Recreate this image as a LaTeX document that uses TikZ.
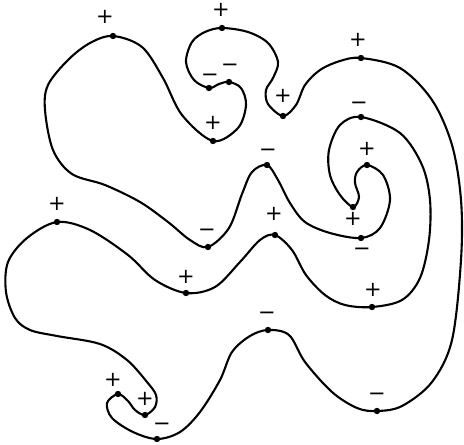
\documentclass[tikz,border=0pt]{standalone}
\usepackage{fontspec}
\newfontfamily\signfont{DejaVu Sans}
\begin{document}
\begin{tikzpicture}[x=1pt,y=-1pt,
  curve/.style={line width=2.1pt, line join=round},
  dotmark/.style={fill=black},
  sgn/.style={inner sep=0pt, text height=0.72em, text depth=0pt, font=\signfont\fontsize{21}{21}\selectfont}]
\useasboundingbox (0,0) rectangle (464,445);
% marked points
\coordinate (P1) at (113,36);
\coordinate (P2) at (213,141);
\coordinate (P3) at (222,28);
\coordinate (P4) at (209,88);
\coordinate (P5) at (229,82);
\coordinate (P6) at (283,116);
\coordinate (P7) at (361,58);
\coordinate (P8) at (361,117);
\coordinate (P9) at (367,165);
\coordinate (P10) at (353,207);
\coordinate (P11) at (361,238);
\coordinate (P12) at (267,165);
\coordinate (P13) at (208,247);
\coordinate (P14) at (57,222);
\coordinate (P15) at (186,293);
\coordinate (P16) at (275,235);
\coordinate (P17) at (372,307);
\coordinate (P18) at (268,330);
\coordinate (P19) at (377,411);
\coordinate (P20) at (157,439);
\coordinate (P21) at (145,415);
\coordinate (P22) at (118,394);
% the closed curve
\draw[curve] plot[smooth cycle, tension=0.55] coordinates {
 (P1) (142,47) (163,78) (182,115) (P2) (238,128) (246,105) (241,88)
 (P5) (219,84) (P4) (194,80) (186,62) (192,42) (205,32) (P3)
 (248,32) (268,43) (278,62) (273,78) (266,90) (268,104) (P6)
 (296,105) (305,85) (320,70) (340,61) (P7)
 (400,68) (432,100) (452,145) (461,200) (461,260) (452,340) (432,382) (402,406) (P19)
 (357,408) (332,392) (305,362) (289,335) (P18)
 (250,336) (232,352) (220,380) (200,412) (180,432) (P20)
 (133,432) (112,418) (107,403) (P22) (128,401) (135,410) (P21)
 (155,407) (156,395) (147,382) (127,360) (100,344) (57,336) (30,330) (15,318) (6,292) (8,262) (27,238) (P14)
 (90,230) (128,255) (155,280) (P15) (215,287) (240,262) (260,240) (P16)
 (292,250) (306,275) (325,295) (345,305) (P17)
 (402,300) (420,278) (429,240) (430,200) (422,165) (400,133) (P8)
 (340,125) (329,150) (330,175) (340,195) (P10)
 (359,197) (355,183) (357,172) (P9)
 (383,175) (390,200) (380,228) (P11)
 (330,233) (305,222) (290,203) (278,180) (P12)
 (252,172) (242,194) (229,228) (P13)
 (190,240) (168,222) (140,202) (105,185) (72,174) (53,150) (45,110) (48,85) (68,60) (90,43)
};
% dots
\foreach \p in {P1,P2,P3,P4,P5,P6,P7,P8,P9,P10,P11,P12,P13,P14,P15,P16,P17,P18,P19,P20,P21,P22}
  \fill[dotmark] (\p) circle (3.2);
% signs
\node[sgn] (L1) at (105,20) {+};
\node[sgn] (L2) at (213,126) {+};
\node[sgn] (L3) at (221,13) {+};
\node[sgn] (L4) at (210,78) {−};
\node[sgn] (L5) at (230,68) {−};
\node[sgn] (L6) at (283,99) {+};
\node[sgn] (L7) at (358,43) {+};
\node[sgn] (L8) at (359,106) {−};
\node[sgn] (L9) at (367,152) {+};
\node[sgn] (L10) at (353,222) {+};
\node[sgn] (L11) at (362,252) {−};
\node[sgn] (L12) at (268,153) {−};
\node[sgn] (L13) at (207,233) {−};
\node[sgn] (L14) at (57,207) {+};
\node[sgn] (L15) at (186,280) {+};
\node[sgn] (L16) at (274,217) {+};
\node[sgn] (L17) at (373,293) {+};
\node[sgn] (L18) at (267,316) {−};
\node[sgn] (L19) at (377,397) {−};
\node[sgn] (L20) at (162,427) {−};
\node[sgn] (L21) at (145,402) {+};
\node[sgn] (L22) at (113,383) {+};
\end{tikzpicture}
\end{document}
